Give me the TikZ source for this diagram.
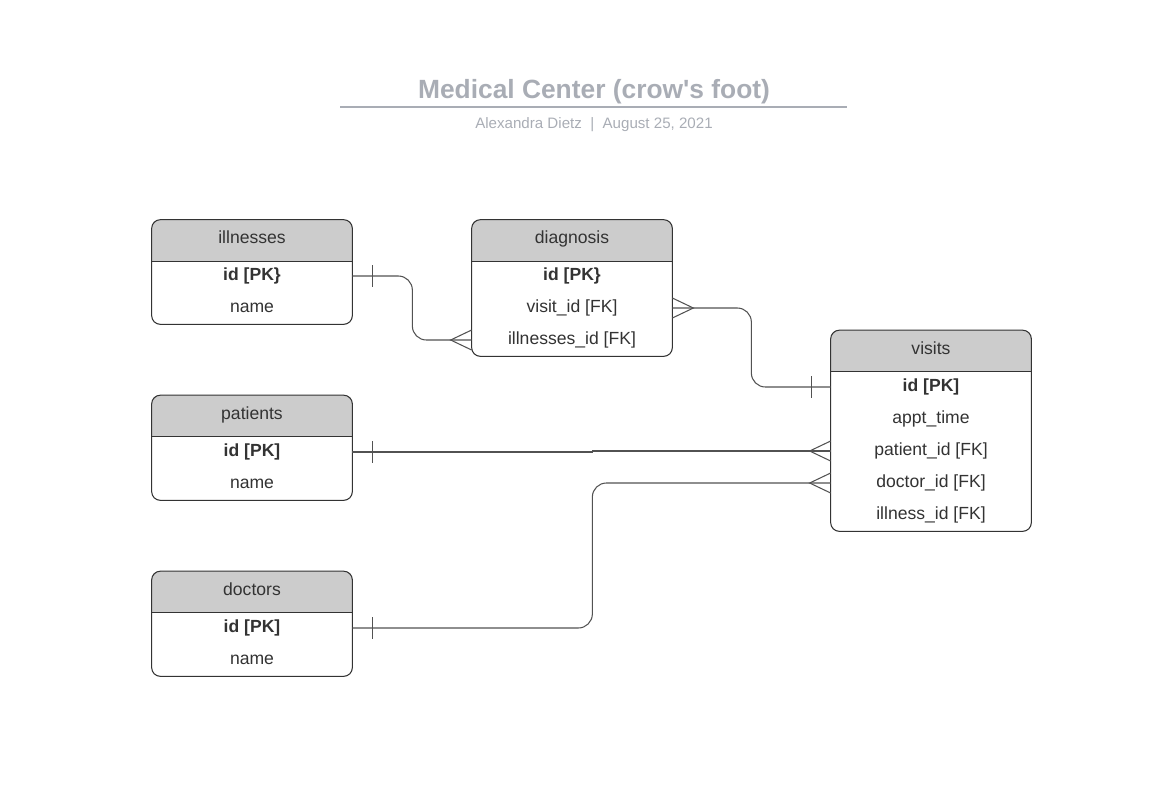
\documentclass[tikz,border=0pt]{standalone}
\usepackage{fontspec}
\setmainfont{Liberation Sans}
\usepackage{tikz}
\usetikzlibrary{positioning,backgrounds}
\usepackage{xcolor}

\definecolor{hdr}{HTML}{CCCCCC}
\definecolor{ink}{HTML}{333333}
\definecolor{ttlgray}{HTML}{A9ADB5}

% frame of one table: header node, last row node
\newcommand{\erframe}[2]{%
\begin{scope}[on background layer]
\fill[white, rounded corners=5pt] (#1.north west) rectangle (#2.south east);
\fill[hdr, rounded corners=5pt] (#1.north west) rectangle (#1.south east);
\fill[hdr] ([yshift=0.3cm]#1.south west) rectangle (#1.south east);
\draw[frame, rounded corners=5pt] (#1.north west) rectangle (#2.south east);
\draw[frame] (#1.south west) -- (#1.south east);
\end{scope}}
% crow's foot and bar ends
\newcommand{\manyleft}[1]{\draw[link] (#1) ++(0,0.2) -- ++(-0.42,-0.2) -- ++(0.42,-0.2);}
\newcommand{\manyright}[1]{\draw[link] (#1) ++(0,0.2) -- ++(0.42,-0.2) -- ++(-0.42,-0.2);}
\newcommand{\onebar}[2]{\draw[link] ([xshift=#2 cm]#1) ++(0,0.22) -- ++(0,-0.44);}

\begin{document}
\begin{tikzpicture}[
  tabhead/.style={minimum width=4cm, minimum height=0.82cm, inner sep=0pt, text height=0.26cm, text depth=0.14cm, text=ink, font=\fontsize{10}{12}\selectfont},
  row/.style={minimum width=4cm, minimum height=0.64cm, inner sep=0pt, text height=0.26cm, text depth=0.08cm, text=ink, font=\fontsize{10}{12}\selectfont},
  key/.style={row, font=\fontsize{10}{12}\selectfont\bfseries},
  frame/.style={draw=ink, line width=0.6pt},
  link/.style={draw=ink!85, line width=0.6pt}]
\useasboundingbox (0,0) rectangle (23.24,-15.90);

% title
\node[text=ttlgray, font=\fontsize{15}{18}\selectfont\bfseries] (ttl) at (11.88,-1.84) {Medical Center (crow\textquotesingle s foot)};
\draw[ttlgray, line width=1.1pt] (6.80,-2.14) -- (16.94,-2.14);
\node[text=ttlgray, font=\fontsize{8.6}{10}\selectfont] (sub) at (11.88,-2.50) {Alexandra Dietz \ | \ August 25, 2021};

% illnesses
\node[tabhead] (ill) at (5.04,-4.81) {illnesses};
\node[key] (ill-id) at (5.04,-5.52) {id [PK\}};
\node[row] (ill-name) at (5.04,-6.16) {name};
\erframe{ill}{ill-name}

% diagnosis
\node[tabhead] (dia) at (11.44,-4.81) {diagnosis};
\node[key] (dia-id) at (11.44,-5.52) {id [PK\}};
\node[row] (dia-vis) at (11.44,-6.16) {visit\_id [FK]};
\node[row] (dia-ill) at (11.44,-6.80) {illnesses\_id [FK]};
\erframe{dia}{dia-ill}

% visits
\node[tabhead] (vis) at (18.62,-7.02) {visits};
\node[key] (vis-id) at (18.62,-7.74) {id [PK]};
\node[row] (vis-time) at (18.62,-8.38) {appt\_time};
\node[row] (vis-pid) at (18.62,-9.02) {patient\_id [FK]};
\node[row] (vis-did) at (18.62,-9.66) {doctor\_id [FK]};
\node[row] (vis-iid) at (18.62,-10.30) {illness\_id [FK]};
\erframe{vis}{vis-iid}

% patients
\node[tabhead] (pat) at (5.04,-8.32) {patients};
\node[key] (pat-id) at (5.04,-9.04) {id [PK]};
\node[row] (pat-name) at (5.04,-9.68) {name};
\erframe{pat}{pat-name}

% doctors
\node[tabhead] (doc) at (5.04,-11.84) {doctors};
\node[key] (doc-id) at (5.04,-12.56) {id [PK]};
\node[row] (doc-name) at (5.04,-13.20) {name};
\erframe{doc}{doc-name}

% relations
\draw[link, rounded corners=8pt] (ill-id.east) -- ++(1.2,0) |- (dia-ill.west);
\onebar{ill-id.east}{0.4}
\manyleft{dia-ill.west}

\draw[link, rounded corners=8pt] (dia-vis.east) -- ++(1.58,0) |- (vis-id.west);
\manyright{dia-vis.east}
\onebar{vis-id.west}{-0.38}

\draw[link] (pat-id.east) -- ++(4.8,0) |- (vis-pid.west);
\onebar{pat-id.east}{0.4}
\manyleft{vis-pid.west}

\draw[link, rounded corners=8pt] (doc-id.east) -- ++(4.8,0) |- (vis-did.west);
\onebar{doc-id.east}{0.4}
\manyleft{vis-did.west}
\end{tikzpicture}
\end{document}
